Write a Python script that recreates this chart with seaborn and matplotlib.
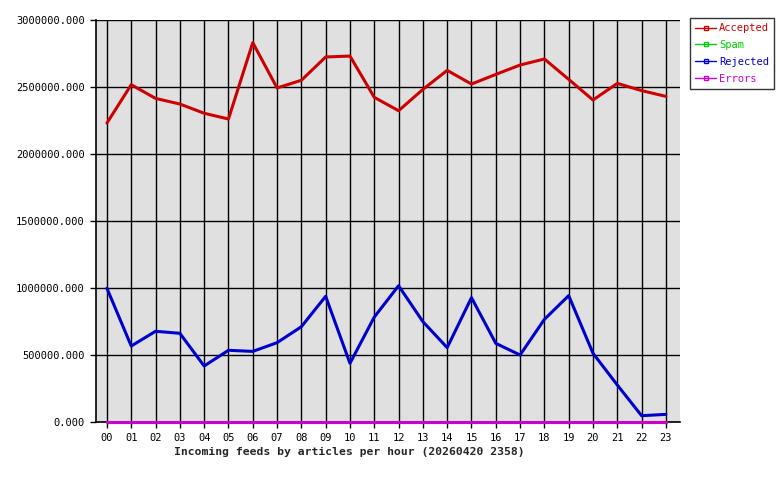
import matplotlib
matplotlib.use("Agg")
import matplotlib.pyplot as plt
import seaborn as sns
import pandas as pd
import numpy as np
from matplotlib.lines import Line2D

hours = ["00","01","02","03","04","05","06","07","08","09","10","11",
         "12","13","14","15","16","17","18","19","20","21","22","23"]
accepted = [2231000, 2517000, 2415000, 2373000, 2304000, 2261000, 2831000, 2493000,
            2550000, 2724000, 2731000, 2423000, 2323000, 2482000, 2624000, 2522000,
            2594000, 2664000, 2709000, 2557000, 2403000, 2527000, 2473000, 2430000]
spam = [0]*24
rejected = [998000, 567000, 677000, 662000, 418000, 535000, 527000, 592000,
            711000, 938000, 438000, 783000, 1017000, 749000, 555000, 928000,
            587000, 500000, 766000, 943000, 513000, 276000, 47000, 57000]
errors = [0]*24

series = ["Accepted", "Spam", "Rejected", "Errors"]
colors = {"Accepted": "#cc0000", "Spam": "#00cc00", "Rejected": "#0000cc", "Errors": "#cc00cc"}

rows = []
for name, vals in zip(series, [accepted, spam, rejected, errors]):
    for i, v in enumerate(vals):
        rows.append({"hour": i, "value": v, "series": name})
df = pd.DataFrame(rows)

sns.set_style("white")
plt.rcParams['font.family'] = ['DejaVu Sans Mono']

fig = plt.figure(figsize=(7.8, 4.8), dpi=100)
ax = fig.add_axes([96/780, 1-422/480, (680-96)/780, (422-20)/480])
ax.set_facecolor("#e0e0e0")

sns.lineplot(data=df, x="hour", y="value", hue="series", hue_order=series,
             palette=colors, linewidth=2.2, ax=ax, legend=False, zorder=3)
for ln in ax.get_lines():
    ln.set_clip_on(False)

ax.set_xlim(-0.45, 23.58)
ax.set_ylim(0, 3000000)
ax.set_xticks(range(24))
ax.set_xticklabels(hours, fontsize=7.5)
yt = [0, 500000, 1000000, 1500000, 2000000, 2500000, 3000000]
ax.set_yticks(yt)
ax.set_yticklabels([f"{v:.3f}" for v in yt], fontsize=7.5)
ax.grid(True, color="black", linewidth=1, zorder=1)
ax.set_axisbelow(True)
for s in ["top", "right"]:
    ax.spines[s].set_visible(False)
for s in ["left", "bottom"]:
    ax.spines[s].set_color("black")
    ax.spines[s].set_linewidth(1.2)
    ax.spines[s].set_zorder(2)
ax.tick_params(axis="both", which="both", length=4, width=1, color="black",
               direction="out", pad=4, left=True, bottom=True, labelcolor="black")
ax.set_xlabel("")
ax.set_ylabel("")

fig.text(349/780, 1-452/480, "Incoming feeds by articles per hour (20260420 2358)",
         ha="center", va="center", fontsize=8.2, fontweight="bold")

handles = [Line2D([0], [0], color=colors[s], lw=1.0, marker="s", markersize=2.5,
                  markerfacecolor="none", markeredgecolor=colors[s]) for s in series]
leg = fig.legend(handles, series, loc="upper left", bbox_to_anchor=(690/780, 1-18/480),
                 frameon=True, fancybox=False, edgecolor="black", fontsize=7.5,
                 handlelength=2.0, handletextpad=0.3, borderpad=0.5, labelspacing=0.65,
                 borderaxespad=0)
leg.get_frame().set_linewidth(1)
for t, s in zip(leg.get_texts(), series):
    t.set_color(colors[s])

fig.savefig("out.png", dpi=100)
